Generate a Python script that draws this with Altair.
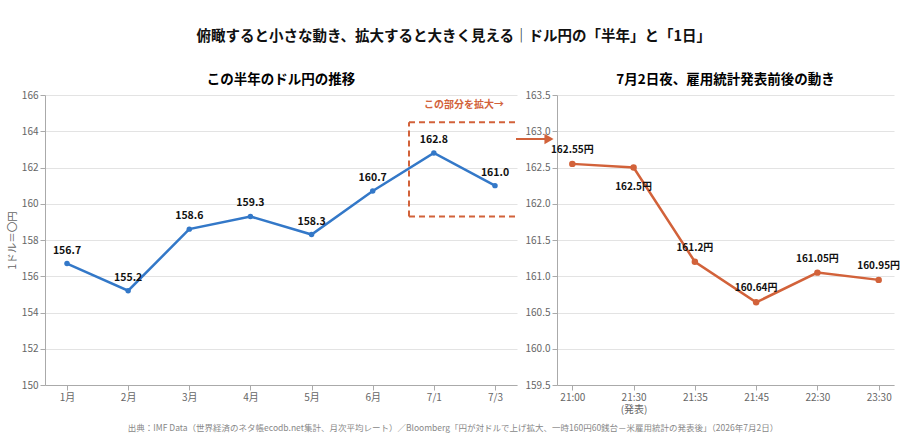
import altair as alt
import pandas as pd

FONT = "Noto Sans CJK JP"

months = ["1月", "2月", "3月", "4月", "5月", "6月", "7/1", "7/3"]
month_vals = [156.7, 155.2, 158.6, 159.3, 158.3, 160.7, 162.8, 161.0]

times = ["21:00", "21:30", "21:35", "21:45", "22:30", "23:30"]
time_vals = [162.55, 162.5, 161.2, 160.64, 161.05, 160.95]
time_labels = ["162.55円", "162.5円", "161.2円", "160.64円", "161.05円", "160.95円"]

box_low, box_high = 159.3, 164.5

BLUE = "#3378c8"
ORANGE = "#d2623a"

df1 = pd.DataFrame({"m": months, "v": month_vals})
df2 = pd.DataFrame({"t": times, "v": time_vals, "lab": time_labels})

W1, W2, H = 472, 337, 290

y1_scale = alt.Scale(domain=[150, 166], nice=False)
y1_axis = alt.Axis(title="1ドル＝〇円", values=list(range(150, 167, 2)), grid=True)

x1 = alt.X("m:N", sort=months, scale=alt.Scale(type="point", padding=0.36),
           axis=alt.Axis(title=None, labelAngle=0, grid=False))
y1 = alt.Y("v:Q", scale=y1_scale, axis=y1_axis)

line1 = alt.Chart(df1).mark_line(color=BLUE, strokeWidth=2.5).encode(x=x1, y=y1)
pts1 = alt.Chart(df1).mark_point(color=BLUE, filled=True, size=30, opacity=1).encode(x=x1, y=y1)
txt1 = alt.Chart(df1).mark_text(dy=-13, fontSize=10.5, fontWeight="bold", color="#111",
                                font=FONT).encode(x=x1, y=y1, text=alt.Text("v:Q", format=".1f"))

box_df = pd.DataFrame({"lo": [box_low], "hi": [box_high]})
dash = dict(color=ORANGE, strokeWidth=2, strokeDash=[6, 4])
box_top = alt.Chart(box_df).mark_rule(**dash).encode(
    y=alt.Y("hi:Q", scale=y1_scale, axis=y1_axis), x=alt.value(364), x2=alt.value(W1))
box_bot = alt.Chart(box_df).mark_rule(**dash).encode(
    y=alt.Y("lo:Q", scale=y1_scale, axis=y1_axis), x=alt.value(364), x2=alt.value(W1))
box_left = alt.Chart(box_df).mark_rule(**dash).encode(
    y=alt.Y("lo:Q", scale=y1_scale, axis=y1_axis), y2="hi:Q", x=alt.value(364))
note = alt.Chart(box_df).mark_text(text="この部分を拡大→", color=ORANGE, fontSize=10,
                                   fontWeight="bold", font=FONT).encode(
    x=alt.value(419), y=alt.value(10))

left = alt.layer(line1, pts1, txt1, box_top, box_bot, box_left, note).properties(
    width=W1, height=H,
    title=alt.TitleParams("この半年のドル円の推移", fontSize=13.5, fontWeight="bold",
                          font=FONT, anchor="middle", offset=4))

x2 = alt.X("t:N", sort=times, scale=alt.Scale(type="point", padding=0.25),
           axis=alt.Axis(title=None, labelAngle=0, grid=False,
                         labelExpr="datum.value == '21:30' ? ['21:30', '(発表)'] : datum.value"))
y2 = alt.Y("v:Q", scale=alt.Scale(domain=[159.5, 163.5], nice=False),
           axis=alt.Axis(title=None, values=[159.5 + 0.5 * i for i in range(9)],
                         format=".1f", grid=True))

line2 = alt.Chart(df2).mark_line(color=ORANGE, strokeWidth=2.5).encode(x=x2, y=y2)
pts2 = alt.Chart(df2).mark_point(color=ORANGE, filled=True, size=42, opacity=1).encode(x=x2, y=y2)
txt2a = alt.Chart(df2).transform_filter("datum.t != '21:30'").mark_text(
    dy=-14, fontSize=10, fontWeight="bold", color="#111", font=FONT).encode(
    x=x2, y=y2, text="lab:N")
txt2b = alt.Chart(df2).transform_filter("datum.t == '21:30'").mark_text(
    dy=19, fontSize=10, fontWeight="bold", color="#111", font=FONT).encode(
    x=x2, y=y2, text="lab:N")

arrow_line = alt.Chart(box_df).mark_rule(color=ORANGE, strokeWidth=2).encode(
    x=alt.value(-41), x2=alt.value(-10), y=alt.value(44))
arrow_head = alt.Chart(box_df).mark_point(shape="triangle-right", filled=True, color=ORANGE,
                                          size=110, opacity=1).encode(
    x=alt.value(-8), y=alt.value(44))

right = alt.layer(line2, pts2, txt2a, txt2b, arrow_line, arrow_head).properties(
    width=W2, height=H,
    title=alt.TitleParams("7月2日夜、雇用統計発表前後の動き", fontSize=13.5, fontWeight="bold",
                          font=FONT, anchor="middle", offset=4))

top = alt.hconcat(left, right, spacing=-3).resolve_scale(y="independent")

footer = alt.Chart(box_df).mark_text(
    text="出典：IMF Data（世界経済のネタ帳ecodb.net集計、月次平均レート）／Bloomberg「円が対ドルで上げ拡大、一時160円60銭台－米雇用統計の発表後」（2026年7月2日）",
    fontSize=8.5, color="#888", font=FONT).encode(x=alt.value(408), y=alt.value(5)).properties(
    width=800, height=10)

chart = alt.vconcat(top, footer, spacing=9).properties(
    title=alt.TitleParams("俯瞰すると小さな動き、拡大すると大きく見える｜ドル円の「半年」と「1日」",
                          fontSize=14.5, fontWeight="bold", font=FONT, anchor="middle",
                          offset=28, color="#111"),
    padding={"left": 7, "top": 29, "right": 5, "bottom": 2},
).configure(font=FONT).configure_view(stroke=None).configure_axis(
    labelColor="#666", labelFontSize=10, labelFont=FONT, titleFont=FONT,
    titleColor="#666", titleFontWeight="normal", titleFontSize=10.5,
    domainColor="#aaa", tickColor="#aaa", gridColor="#e3e3e3",
).configure_axisX(domain=True)

chart.save("out.html", embed_options={"renderer": "svg", "actions": False})
